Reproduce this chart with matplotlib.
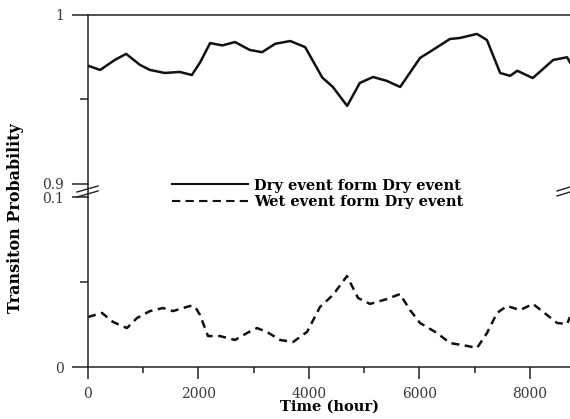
import matplotlib
matplotlib.use("Agg")
import matplotlib.pyplot as plt
from matplotlib.lines import Line2D
from matplotlib.ticker import FixedLocator

plt.rcParams['font.family'] = ['DejaVu Serif']

# values
dry_hours = [0, 220, 490, 690, 940, 1120, 1390, 1660, 1880, 2030, 2210, 2430, 2660,
             2930, 3150, 3390, 3660, 3930, 4240, 4430, 4690, 4920, 5160, 5410, 5650,
             6010, 6240, 6550, 6730, 7040, 7220, 7460, 7640, 7770, 8050, 8420, 8670, 8724]
dry_vals = [0.970, 0.9675, 0.9735, 0.977, 0.9705, 0.9675, 0.9657, 0.9663, 0.9645, 0.972,
            0.9834, 0.982, 0.984, 0.9793, 0.978, 0.983, 0.9846, 0.981, 0.963, 0.9575,
            0.9462, 0.9598, 0.9633, 0.961, 0.9574, 0.9746, 0.9793, 0.9858, 0.9864, 0.9888,
            0.9852, 0.9657, 0.964, 0.967, 0.9627, 0.9734, 0.975, 0.972]

wet_hours = [0, 253, 452, 705, 886, 1122, 1357, 1538, 1846, 1937, 2027, 2172, 2389, 2661,
             2878, 3059, 3240, 3475, 3711, 3964, 4199, 4434, 4688, 4887, 5104, 5412, 5647,
             5828, 6009, 6317, 6552, 6860, 7041, 7222, 7403, 7584, 7819, 8054, 8308, 8489,
             8670, 8724]
wet_vals = [0.0294, 0.0318, 0.0265, 0.0229, 0.0288, 0.0329, 0.0347, 0.0329, 0.0359, 0.0355,
            0.0306, 0.0182, 0.0182, 0.0159, 0.0200, 0.0229, 0.0206, 0.0159, 0.0147, 0.0206,
            0.0353, 0.0424, 0.0535, 0.0406, 0.0371, 0.0400, 0.0429, 0.0335, 0.0259, 0.0200,
            0.0141, 0.0124, 0.0112, 0.0200, 0.0318, 0.0359, 0.0335, 0.0371, 0.0306, 0.0259,
            0.0253, 0.0294]

x_major = [0, 2000, 4000, 6000, 8000]
x_minor = [1000, 3000, 5000, 7000]
top_ticks = [0.9, 1.0]
top_labels = ['0.9', '1']
bot_ticks = [0.0, 0.1]
bot_labels = ['0', '0.1']

ink = '#222222'
lab = '#3a3a3a'
lw_line = 1.8

fig = plt.figure(figsize=(5.7, 4.19), dpi=100)
L = 88 / 570
ax_top = fig.add_axes([L, 1 - 184 / 419, 1 - L, (184 - 15) / 419])
ax_bot = fig.add_axes([L, 1 - 367 / 419, 1 - L, (367 - 197) / 419])

ax_top.plot(dry_hours, dry_vals, color='#111111', lw=lw_line)
ax_bot.plot(wet_hours, wet_vals, color='#111111', lw=lw_line, dashes=(3.2, 2.2))

for ax in (ax_top, ax_bot):
    ax.set_xlim(0, 8724)
    ax.spines['right'].set_visible(False)
    ax.spines['left'].set_color(ink)
    ax.spines['left'].set_linewidth(1.1)
    ax.tick_params(axis='y', which='major', direction='out', length=11.5, width=1.1,
                   color=ink, labelsize=10, labelcolor=lab, pad=6)
    ax.tick_params(axis='y', which='minor', direction='out', length=5.5, width=1.1, color=ink)

ax_top.set_ylim(0.9, 1.0)
ax_top.spines['bottom'].set_visible(False)
ax_top.spines['top'].set_color(ink)
ax_top.spines['top'].set_linewidth(1.1)
ax_top.set_xticks([])
ax_top.set_yticks(top_ticks)
ax_top.set_yticklabels(top_labels)
ax_top.yaxis.set_minor_locator(FixedLocator([0.95]))

ax_bot.set_ylim(0.0, 0.1)
ax_bot.spines['top'].set_visible(False)
ax_bot.spines['bottom'].set_color(ink)
ax_bot.spines['bottom'].set_linewidth(1.1)
ax_bot.set_yticks(bot_ticks)
ax_bot.set_yticklabels(bot_labels)
ax_bot.yaxis.set_minor_locator(FixedLocator([0.05]))
ax_bot.set_xticks(x_major)
ax_bot.xaxis.set_minor_locator(FixedLocator(x_minor))
ax_bot.tick_params(axis='x', which='major', direction='out', length=8.5, width=1.1,
                   color=ink, labelsize=10, labelcolor=lab, pad=6)
ax_bot.tick_params(axis='x', which='minor', direction='out', length=4.5, width=1.1, color=ink)
ax_bot.set_xlabel('Time (hour)', fontsize=10.5, fontweight='bold', labelpad=-1)

fig.text(16 / 570, 1 - 218 / 419, 'Transiton Probability', rotation=90, fontsize=11.5,
         fontweight='bold', ha='center', va='center')

# left axis runs through the gap, with break marks
fig.add_artist(Line2D([L, L], [1 - 197 / 419, 1 - 184 / 419], color=ink, lw=1.1))
for y0 in (192, 197):
    fig.add_artist(Line2D([77 / 570, 98 / 570], [1 - y0 / 419, 1 - (y0 - 6) / 419],
                          color=ink, lw=1.0))
for y0 in (191, 196):
    fig.add_artist(Line2D([557 / 570, 570 / 570], [1 - y0 / 419, 1 - (y0 - 4) / 419],
                          color=ink, lw=1.0))

handles = [Line2D([], [], color='#111111', lw=1.5),
           Line2D([], [], color='#111111', lw=1.5, dashes=(4, 2.5))]
fig.legend(handles, ['Dry event form Dry event', 'Wet event form Dry event'],
           loc='center left', bbox_to_anchor=(172 / 570, 1 - 194 / 419), frameon=False,
           prop={'family': 'DejaVu Serif', 'weight': 'bold', 'size': 10.5},
           handlelength=5.2, handletextpad=0.4, labelspacing=0.2, borderpad=0,
           borderaxespad=0)

fig.savefig('out.png', dpi=100, facecolor='white')
